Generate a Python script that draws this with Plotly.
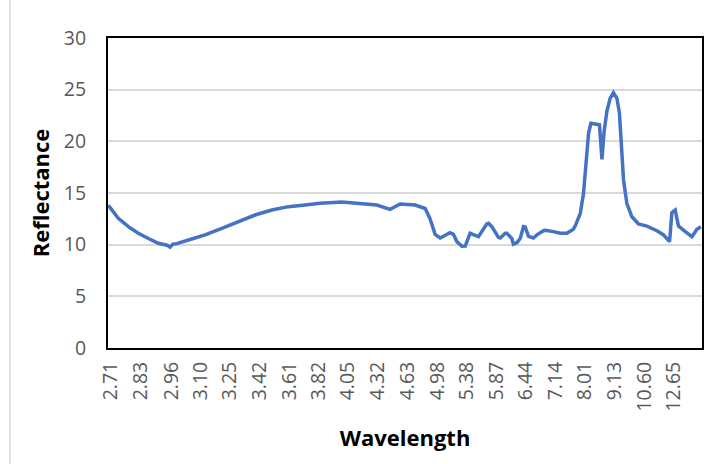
import plotly.graph_objects as go

# Spectrum (x stored as wavenumber, cm^-1; axis labelled in wavelength, um)
wavenumber = [3702, 3651, 3599, 3548, 3496, 3445, 3400, 3385, 3370, 3350, 3273, 3204, 3118,
              3033, 2947, 2861, 2775, 2689, 2612, 2500, 2406, 2320, 2252, 2200, 2123, 2088,
              2071, 2046, 2020, 1994, 1943, 1926, 1908, 1882, 1865, 1840, 1805, 1797, 1754,
              1745, 1728, 1694, 1685, 1659, 1651, 1625, 1617, 1599, 1582, 1565, 1556, 1539,
              1514, 1496, 1462, 1453, 1411, 1393, 1376, 1342, 1308, 1299, 1282, 1273, 1256,
              1242, 1230, 1218, 1196, 1174, 1161, 1150, 1136, 1119, 1102, 1084, 1071, 1062,
              1050, 1033, 1007, 973, 930, 878, 844, 813, 801, 784, 767, 732, 698, 672, 652]
reflectance = [13.8, 12.55, 11.74, 11.1, 10.6, 10.13, 9.95, 9.75, 10.05, 10.1, 10.55, 10.94, 11.58,
               12.22, 12.87, 13.35, 13.68, 13.84, 14.0, 14.13, 14.0, 13.84, 13.42, 13.94, 13.84, 13.6,
               13.5, 12.5, 11.0, 10.65, 11.15, 11.0, 10.3, 9.85, 9.87, 11.1, 10.84, 10.77, 12.0,
               12.06, 11.74, 10.71, 10.65, 11.1, 11.1, 10.6, 10.05, 10.19, 10.6, 11.74, 11.7, 10.8,
               10.65, 10.95, 11.35, 11.4, 11.26, 11.16, 11.1, 11.1, 11.5, 11.8, 12.6, 13.0, 14.97,
               17.87, 20.77, 21.75, 21.68, 21.6, 18.26, 20.94, 22.87, 24.16, 24.71, 24.16, 22.71, 19.8,
               16.26, 14.0, 12.7, 12.0, 11.8, 11.35, 10.94, 10.29, 13.1, 13.35, 11.8, 11.26, 10.77, 11.48, 11.74]

wavelength_labels = ["2.71", "2.83", "2.96", "3.10", "3.25", "3.42", "3.61", "3.82", "4.05", "4.32",
                     "4.63", "4.98", "5.38", "5.87", "6.44", "7.14", "8.01", "9.13", "10.60", "12.65"]
y_ticks = [0, 5, 10, 15, 20, 25, 30]

tick_positions = [10000.0 / float(t) for t in wavelength_labels]

fig = go.Figure()
fig.add_trace(go.Scatter(
    x=wavenumber, y=reflectance, mode="lines",
    line=dict(color="#4472C4", width=3.5),
    showlegend=False, hoverinfo="skip",
))

tick_font = dict(family="Open Sans", size=19.5, color="#595959")
title_font = dict(family="Open Sans", size=22, color="#000000")

fig.update_layout(
    width=711, height=464,
    margin=dict(l=108, r=9, t=38, b=116, autoexpand=False),
    paper_bgcolor="white", plot_bgcolor="white",
    xaxis=dict(
        range=[3704, 646], tickmode="array", tickvals=tick_positions, ticktext=wavelength_labels,
        tickangle=-90, ticks="", showgrid=False, zeroline=False,
        showline=True, linecolor="black", linewidth=2, mirror=True,
        tickfont=tick_font, ticklabelstandoff=4,
        title=dict(text="<b>Wavelength</b>", font=title_font, standoff=20),
    ),
    yaxis=dict(
        range=[0, 30], tickmode="array", tickvals=y_ticks, ticks="",
        showgrid=True, gridcolor="#d9d9d9", gridwidth=1.5, zeroline=False,
        showline=True, linecolor="black", linewidth=2, mirror=True,
        tickfont=tick_font, ticklabelstandoff=16,
        title=dict(text="<b>Reflectance</b>", font=title_font, standoff=8),
    ),
    shapes=[dict(type="line", xref="paper", yref="paper",
                 x0=-98 / 593.7, x1=-98 / 593.7, y0=-0.5, y1=1.5,
                 line=dict(color="#d9d9d9", width=1.5))],
)

fig.write_html("out.html")
